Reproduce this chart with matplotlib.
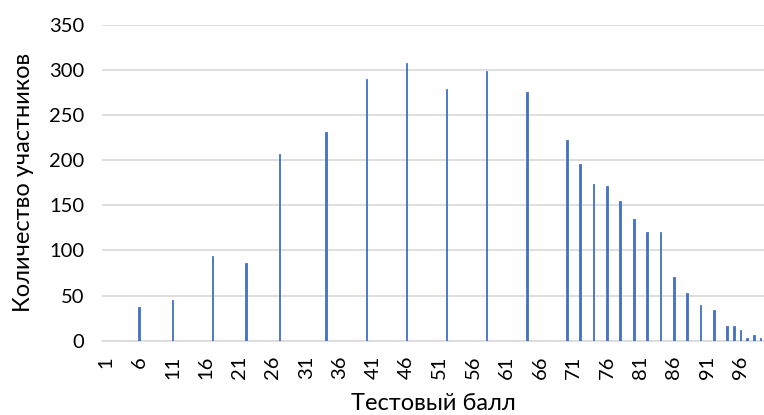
import matplotlib.pyplot as plt
import numpy as np

plt.rcParams['font.family'] = ['Lato', 'DejaVu Sans']

# test score (category 1..99) and number of participants
scores = [6, 11, 17, 22, 27, 34, 40, 46, 52, 58, 64, 70, 72, 74, 76, 78, 80,
          82, 84, 86, 88, 90, 92, 94, 95, 96, 97, 98, 99]
counts = [37, 45, 94, 86, 207, 231, 290, 308, 279, 299, 276, 222, 196, 174,
          172, 155, 135, 120, 120, 71, 53, 40, 34, 16, 16, 12, 3, 6, 3]
tick_labels = [str(v) for v in range(1, 100, 5)]

fig = plt.figure(figsize=(7.64, 4.15), dpi=100)
ax = fig.add_axes([0.134, 0.179, 0.866, 0.761])

ax.bar(scores, counts, width=0.25, color='#4472C4', edgecolor='#4472C4',
       linewidth=0.6, zorder=3)

ax.set_xlim(0.5, 99.5)
ax.set_ylim(0, 350)
ax.set_yticks(np.arange(0, 351, 50))
ax.set_xticks(range(1, 100, 5))
ax.set_xticklabels(tick_labels, rotation=90)
ax.grid(axis='y', color='#D9D9D9', linewidth=1.2, zorder=0)
for s in ['top', 'right', 'left']:
    ax.spines[s].set_visible(False)
ax.spines['bottom'].set_color('#D9D9D9')
ax.spines['bottom'].set_linewidth(1.2)
ax.tick_params(axis='both', length=0, labelsize=14.5, colors='#000000')
ax.tick_params(axis='x', pad=11)
ax.tick_params(axis='y', pad=13)

ax.set_xlabel('Тестовый балл', fontsize=17, labelpad=10)
ax.set_ylabel('Количество участников', fontsize=17, labelpad=11)

plt.savefig('out.png', dpi=100)
